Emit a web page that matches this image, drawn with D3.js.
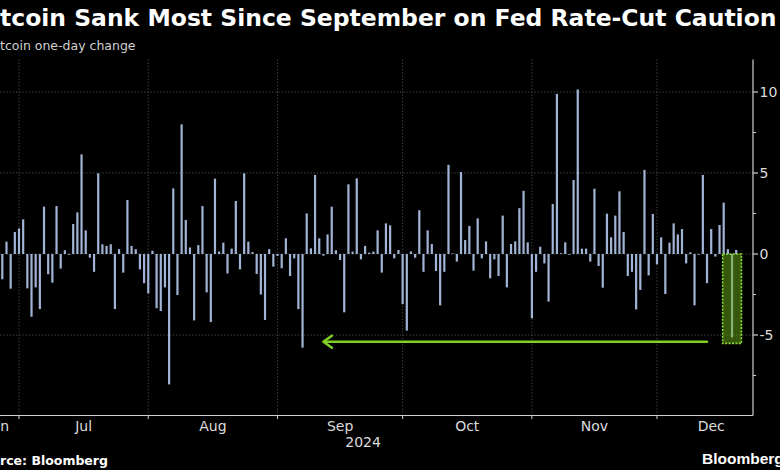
<!DOCTYPE html>
<html>
<head>
<meta charset="utf-8">
<script src="https://cdn.jsdelivr.net/npm/d3@7"></script>
<style>
  html, body { margin: 0; padding: 0; background: #000; }
  svg { display: block; }
</style>
</head>
<body>
<svg id="chart" width="780" height="470"></svg>
<script>
// ---------------- DATA ----------------
const titleText = "tcoin Sank Most Since September on Fed Rate-Cut Caution";
const subtitleText = "tcoin one-day change";
const sourceText = "rce: Bloomberg";
const logoText = "Bloomberg";
const yearLabel = "2024";

const firstDate = "2024-06-27"; // one bar per calendar day from here
const dailyChange = [
  -1.56, 0.76, -2.14, 1.36, 1.58, 2.14, -2.12, -3.87, -2.06, -3.4,
  2.92, -1.25, -1.77, 2.96, -0.9, 0.23, -0.05, 1.85, 2.57, 6.15,
  1.46, -0.23, -1.1, 4.98, 0.6, 0.5, 0.6, -3.4, 0.3, -1.15,
  3.33, 0.5, 0.3, -0.95, -1.8, -2.43, 0.2, -3.35, -3.52, -2.06,
  -8.05, 4.05, -2.53, 8.0, 2.1, 0.4, -4.1, 0.55, 2.96, -2.37,
  -4.2, 4.65, 0.15, 0.7, -1.2, 0.33, 3.27, -0.95, 4.98, 0.76,
  0.12, -1.23, -2.5, -4.07, 0.3, -0.78, -0.12, -0.88, 0.97, -1.36,
  -0.27, -3.4, -5.78, 2.5, 0.35, 4.88, 0.97, -0.1, 1.21, 2.92,
  0.23, -0.37, -3.6, 4.3, 0.15, 4.67, -0.33, 0.5, 0.08, 0.15,
  1.46, -1.15, 1.89, 1.77, -0.27, 0.25, -3.1, -4.73, 0.16, -0.23,
  2.7, -1.1, 1.46, 0.62, -1.05, -3.17, -1.1, 5.5, 0.04, -0.47,
  5.06, 0.86, 1.73, -1.03, 2.2, -0.27, 0.78, -1.5, -0.33, -1.36,
  2.37, -2.06, 0.62, 0.78, 2.83, 3.9, 0.72, -3.97, -1.1, 0.45,
  -0.58, -2.94, 3.09, 9.88, 0.05, 0.72, -0.05, 4.57, 10.16, 0.33,
  0.33, -0.47, 4.03, -0.74, -2.08, 2.49, 1.03, 2.37, 3.87, 1.36,
  -1.36, -1.1, -3.42, -2.22, 5.19, -1.32, 2.47, -0.64, 1.03, -2.47,
  0.7, 1.89, 1.21, 1.54, -0.58, 0.1, -3.17, -0.05, 4.88, -1.8,
  1.54, -0.16, 1.79, 3.17, 0.3, -5.15, 0.25
];

const xDomain = ["2024-06-21", "2024-12-27"];
const yDomain = [-10, 12];
const yMajorTicks = [-5, 0, 5, 10];
const yMinorTicks = [-7.5, -2.5, 2.5, 7.5];
const monthLabels = ["Jun", "Jul", "Aug", "Sep", "Oct", "Nov", "Dec"];
const yearLabelMonth = "2024-09-01";

// annotation: highlight box and arrow (data units)
const highlightDates = ["2024-12-17", "2024-12-21"];
const highlightRange = [0, -5.52];
const arrowFrom = "2024-12-13";
const arrowTo = "2024-09-12";
const arrowValue = -5.42;

// ---------------- DRAW ----------------
const parse = d3.utcParse("%Y-%m-%d");
const start = parse(firstDate);
const data = dailyChange.map((v, i) => ({ date: d3.utcDay.offset(start, i), value: v }));

const svg = d3.select("#chart");
svg.append("rect").attr("width", 780).attr("height", 470).attr("fill", "#000");

const plotRight = 753, plotTop = 59.6, plotBottom = 416;

const x = d3.scaleUtc().domain(xDomain.map(parse)).range([-22.7, 765.4]);
const y = d3.scaleLinear().domain(yDomain).range([plotBottom, plotTop]);

const grid = svg.append("g");
grid.selectAll("line.h").data(yMajorTicks).join("line")
  .attr("x1", 0).attr("x2", plotRight)
  .attr("y1", d => y(d)).attr("y2", d => y(d))
  .attr("stroke", "#4a4a4a").attr("stroke-width", 1).attr("stroke-dasharray", "1.2,2");
const monthStarts = d3.utcMonth.range(d3.utcMonth.ceil(x.domain()[0]), x.domain()[1]);
grid.selectAll("line.v").data(monthStarts).join("line")
  .attr("x1", d => x(d)).attr("x2", d => x(d))
  .attr("y1", plotTop).attr("y2", y(yDomain[0]))
  .attr("stroke", "#4a4a4a").attr("stroke-width", 1).attr("stroke-dasharray", "1.2,2");

// bars
const barW = 2.2;
svg.append("g").selectAll("rect").data(data).join("rect")
  .attr("x", d => x(d.date) - barW / 2)
  .attr("width", barW)
  .attr("y", d => y(Math.max(0, d.value)))
  .attr("height", d => Math.abs(y(d.value) - y(0)))
  .attr("fill", "#a2b4d6");

// highlight box
const hb0 = d3.utcHour.offset(parse(highlightDates[0]), -6);
const hb1 = d3.utcHour.offset(parse(highlightDates[1]), 6);
svg.append("rect")
  .attr("x", x(hb0)).attr("width", x(hb1) - x(hb0))
  .attr("y", y(highlightRange[0])).attr("height", y(highlightRange[1]) - y(highlightRange[0]))
  .attr("fill", "rgba(105,175,20,0.5)")
  .attr("stroke", "#8fe03a").attr("stroke-width", 1.6).attr("stroke-dasharray", "2,1.4");

// arrow
const ax1 = x(parse(arrowFrom)), ax2 = x(parse(arrowTo)), ay = y(arrowValue);
const arrowColor = "#7fd024";
svg.append("line").attr("x1", ax1).attr("x2", ax2 + 1).attr("y1", ay).attr("y2", ay)
  .attr("stroke", arrowColor).attr("stroke-width", 2.6).attr("stroke-linecap", "round");
svg.append("path")
  .attr("d", `M${ax2 + 8.5},${ay - 6} L${ax2},${ay} L${ax2 + 8.5},${ay + 6}`)
  .attr("fill", "none").attr("stroke", arrowColor).attr("stroke-width", 2.6)
  .attr("stroke-linecap", "round").attr("stroke-linejoin", "round");

// right axis
const axisColor = "#cfcfcf";
const fontAxis = "'DejaVu Sans', sans-serif";
svg.append("line").attr("x1", plotRight).attr("x2", plotRight)
  .attr("y1", plotTop).attr("y2", 415.5)
  .attr("stroke", axisColor).attr("stroke-width", 1.2);
svg.append("g").selectAll("line").data(yMajorTicks).join("line")
  .attr("x1", plotRight).attr("x2", plotRight + 5)
  .attr("y1", d => y(d)).attr("y2", d => y(d))
  .attr("stroke", axisColor).attr("stroke-width", 1.2);
svg.append("g").selectAll("line").data(yMinorTicks).join("line")
  .attr("x1", plotRight).attr("x2", plotRight + 3)
  .attr("y1", d => y(d)).attr("y2", d => y(d))
  .attr("stroke", axisColor).attr("stroke-width", 1);
svg.append("g").selectAll("text").data(yMajorTicks).join("text")
  .attr("x", plotRight + 6.5).attr("y", d => y(d)).attr("dy", "0.36em")
  .attr("fill", "#dcdcdc").attr("font-family", fontAxis).attr("font-size", 14)
  .text(d => d < 0 ? "-" + Math.abs(d) : d);

// bottom axis
svg.append("line").attr("x1", 0).attr("x2", plotRight)
  .attr("y1", 415.5).attr("y2", 415.5)
  .attr("stroke", axisColor).attr("stroke-width", 1.2);
svg.append("g").selectAll("line").data(monthStarts).join("line")
  .attr("x1", d => x(d)).attr("x2", d => x(d))
  .attr("y1", 415.5).attr("y2", 419)
  .attr("stroke", axisColor).attr("stroke-width", 1);
const d0 = x.domain()[0], d1 = x.domain()[1];
const monthMid = m => {
  const a = d3.max([m, d0]), b = d3.min([d3.utcMonth.offset(m, 1), d1]);
  return (x(a) + x(b)) / 2;
};
const labelMonths = d3.utcMonth.range(d3.utcMonth.floor(d0), d1);
svg.append("g").selectAll("text").data(labelMonths).join("text")
  .attr("x", d => monthMid(d)).attr("y", 431)
  .attr("text-anchor", "middle")
  .attr("fill", "#dcdcdc").attr("font-family", fontAxis).attr("font-size", 14)
  .text((d, i) => monthLabels[i]);
svg.append("text")
  .attr("x", monthMid(parse(yearLabelMonth)) + 23).attr("y", 447)
  .attr("text-anchor", "middle")
  .attr("fill", "#dcdcdc").attr("font-family", fontAxis).attr("font-size", 14)
  .text(yearLabel);

// title / subtitle
const title = svg.append("text").attr("x", 0).attr("y", 25.5)
  .attr("fill", "#fff").attr("font-family", "'DejaVu Sans', sans-serif")
  .attr("font-weight", "bold").attr("font-size", 22).text(titleText);
const tl = title.node().getComputedTextLength();
title.attr("font-size", 22 * 777 / tl);

svg.append("text").attr("x", 0).attr("y", 50)
  .attr("fill", "#d0d0d0").attr("font-family", "'DejaVu Sans', sans-serif")
  .attr("font-size", 12.5).text(subtitleText);

// footer
svg.append("text").attr("x", 0).attr("y", 465)
  .attr("fill", "#fff").attr("font-family", "'DejaVu Sans', sans-serif")
  .attr("font-weight", "bold").attr("font-size", 12.5).text(sourceText);
svg.append("text").attr("x", 702).attr("y", 464)
  .attr("fill", "#fff").attr("font-family", "'Liberation Sans', Arial, sans-serif")
  .attr("font-weight", "bold").attr("font-size", 15.5).text(logoText);
</script>
</body>
</html>
